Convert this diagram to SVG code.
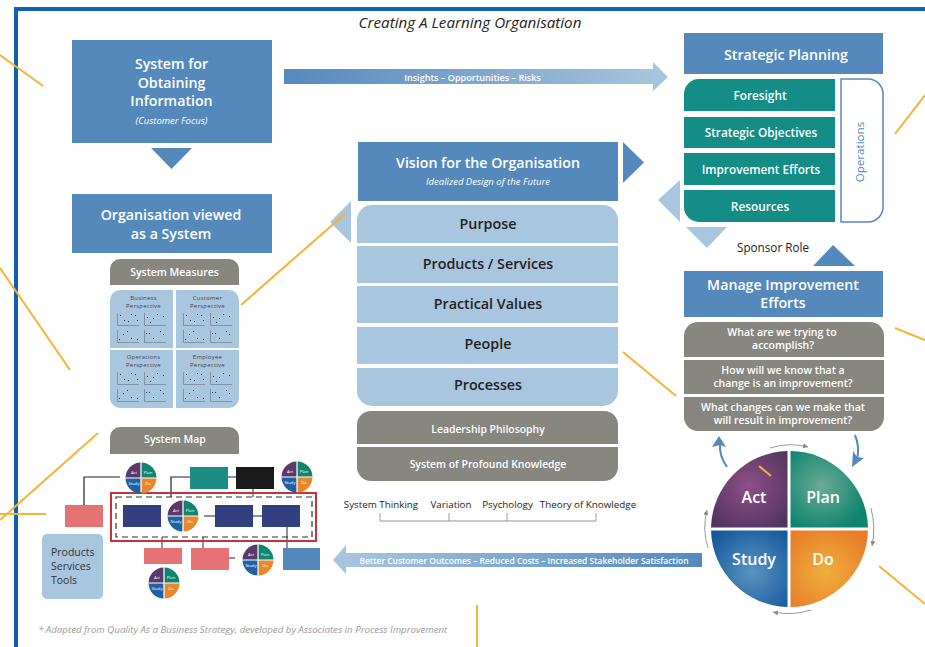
<svg xmlns="http://www.w3.org/2000/svg" xmlns:xlink="http://www.w3.org/1999/xlink" width="925" height="647" viewBox="0 0 925 647">
<style>
text{font-family:"Open Sans","Noto Sans","DejaVu Sans",sans-serif;text-anchor:middle}
.blue{fill:#5589BC}.light{fill:#A9C6DF}.teal{fill:#138D85}.grey{fill:#87877F}
.w{fill:#fff;font-weight:600}
.d{fill:#222;font-weight:600;font-size:14.3px}
.h{font-size:14.2px}
.sub{fill:#fff;font-style:italic;font-size:9.5px}
.t{font-size:11.8px}
.q{font-size:10.5px}
.p{fill:#444;font-size:5.9px;letter-spacing:.3px}
.y{stroke:#F9B233;stroke-width:2;fill:none}
.c{stroke:#222;stroke-width:1.2;fill:none}
.c2{stroke:#666;stroke-width:1.4;fill:none}
.ar{stroke:#999;stroke-width:1;fill:none;marker-end:url(#ah)}
.mt{fill:#fff;font-size:4.2px}
.ax{stroke:#6F7C8C;stroke-width:.7;fill:none}
.pdsa{fill:#fff;font-weight:600;font-size:16px}
.lab{font-size:9.8px;fill:#222}
.st{text-anchor:start;font-size:10.5px;fill:#333}
</style>
<defs>
<linearGradient id="gTop"><stop offset="0" stop-color="#5589BC"/><stop offset="1" stop-color="#A9C6DF"/></linearGradient>
<linearGradient id="gBot"><stop offset="0" stop-color="#A9C6DF"/><stop offset="1" stop-color="#5589BC"/></linearGradient>
<radialGradient id="gAct" gradientUnits="userSpaceOnUse" cx="749" cy="486" r="50"><stop offset="0" stop-color="#8E4F88"/><stop offset="1" stop-color="#52345F"/></radialGradient>
<radialGradient id="gPlan" gradientUnits="userSpaceOnUse" cx="822" cy="486" r="46"><stop offset="0" stop-color="#6CAA95"/><stop offset="1" stop-color="#0F8570"/></radialGradient>
<radialGradient id="gStudy" gradientUnits="userSpaceOnUse" cx="752" cy="572" r="52"><stop offset="0" stop-color="#5A93C2"/><stop offset="1" stop-color="#14599B"/></radialGradient>
<radialGradient id="gDo" gradientUnits="userSpaceOnUse" cx="826" cy="572" r="50"><stop offset="0" stop-color="#EFB03C"/><stop offset="1" stop-color="#E77C2A"/></radialGradient>
<marker id="ah" markerWidth="6" markerHeight="6" refX="5" refY="3" orient="auto"><path d="M0,0.5L5,3L0,5.5Z" fill="#888"/></marker>
<g id="mini">
<path d="M-.6,-.6V-15.5A15.5,15.5 0 0 0 -15.5,-.6Z" fill="#5B3A6B"/>
<path d="M.6,-.6V-15.5A15.5,15.5 0 0 1 15.5,-.6Z" fill="#0F8570"/>
<path d="M-.6,.6V15.5A15.5,15.5 0 0 1 -15.5,.6Z" fill="#1E62A3"/>
<path d="M.6,.6V15.5A15.5,15.5 0 0 0 15.5,.6Z" fill="#E8872C"/>
<text class="mt" x="-7" y="-4.5">Act</text><text class="mt" x="7" y="-4.5">Plan</text><text class="mt" x="-7" y="7">Study</text><text class="mt" x="7" y="7">Do</text>
</g>
<g id="ch">
<path class="ax" d="M117.500,313V325.500H139"/><path class="ax" d="M144.500,313V325.500H166"/><path class="ax" d="M117.500,330V342.500H139"/><path class="ax" d="M144.500,330V342.500H166"/>
<path d="M120,315h1v1h-1zM124,320h1v1h-1zM128,321h1v1h-1zM131,314h1v1h-1zM135,315h1v1h-1zM137,320h1v1h-1zM147,317h1v1h-1zM150,322h1v1h-1zM153,318h1v1h-1zM157,314h1v1h-1zM163,316h1v1h-1zM119,339h1v1h-1zM123,334h1v1h-1zM127,331h1v1h-1zM131,338h1v1h-1zM137,339h1v1h-1zM146,333h1v1h-1zM149,333h1v1h-1zM153,338h1v1h-1zM160,331h1v1h-1zM163,334h1v1h-1z" fill="#2A3550"/>
</g>
</defs>

<g id="frame"><path d="M16,647V9H925" fill="none" stroke="#0B62B0" stroke-width="4"/></g>
<g id="title"><text x="470" y="28" font-size="15.200" font-style="italic" fill="#222">Creating A Learning Organisation</text></g>

<g id="connectors">
<path class="c" d="M84,505V477H120M171,497V477H190M228,477H236M204,516H215M253,516H262M229,558H235"/>
<path class="c2" d="M253,489V497M287,527V548M162,537V548M203,548V537"/>
<path d="M380,513V521H596V513M449,513V521M507,513V521" fill="none" stroke="#999" stroke-width="1"/>
<path id="arrowTop" d="M284,69H653V62L668,77L653,91V84H284Z" fill="url(#gTop)"/>
<path id="arrowBottom" d="M702,553H346V545L333,560L346,574V567H702Z" fill="url(#gBot)"/>
<path class="blue" d="M151,148H192L171.500,169Z"/>
<path class="blue" d="M623,142L644,162.500L623,183Z"/>
<path class="light" d="M330,222L351,201V243Z"/>
<path class="light" d="M658,200L680,180V222Z"/>
<path class="light" d="M686,227H727L707,248Z"/>
<path class="blue" d="M813,266H855L833,245Z"/>
<path class="ar" d="M770,448Q789,442 808,447"/>
<path class="ar" d="M871,508Q876,527 872,546"/>
<path class="ar" d="M811,610Q792,616 773,612"/>
<path class="ar" d="M708,548Q702,529 707,510"/>
<path d="M727,467Q719,456 720,443" fill="none" stroke="#5589BC" stroke-width="2"/>
<path class="blue" d="M719,436L726,447L720,445L712,447Z"/>
<path d="M855,435Q860,447 857,459" fill="none" stroke="#5589BC" stroke-width="2"/>
<path class="blue" d="M852,467L853,451L857,457L864,458Z"/>
</g>

<g id="obtaining">
<rect class="blue" x="72" y="40" width="200" height="103"/>
<text class="w h" x="171.500" y="69">System for</text><text class="w h" x="171.500" y="88">Obtaining</text><text class="w h" x="171.500" y="106">Information</text>
<text class="sub" x="171.500" y="124">(Customer Focus)</text>
</g>
<g id="organisation">
<rect class="blue" x="72" y="194" width="200" height="59"/>
<text class="w h" x="171" y="220">Organisation viewed</text><text class="w h" x="171" y="239">as a System</text>
</g>
<g id="measures">
<path class="grey" d="M110,285V269A10,10 0 0 1 120,259H229A10,10 0 0 1 239,269V285Z"/>
<text class="w" font-size="10.500" x="174.500" y="276">System Measures</text>
<path class="light" d="M110,348V300A10,10 0 0 1 120,290H173V348Z"/>
<path class="light" d="M176,348V290H229A10,10 0 0 1 239,300V348Z"/>
<path class="light" d="M110,350H173V408H120A10,10 0 0 1 110,398Z"/>
<path class="light" d="M176,350H239V398A10,10 0 0 1 229,408H176Z"/>
<text class="p" x="143.500" y="299.500">Business</text><text class="p" x="143.500" y="308">Perspective</text>
<text class="p" x="207.500" y="299.500">Customer</text><text class="p" x="207.500" y="308">Perspective</text>
<text class="p" x="143.500" y="358.500">Operations</text><text class="p" x="143.500" y="367">Perspective</text>
<text class="p" x="207.500" y="358.500">Employee</text><text class="p" x="207.500" y="367">Perspective</text>
<use href="#ch"/><use href="#ch" x="66"/><use href="#ch" y="59"/><use href="#ch" x="66" y="59"/>
</g>
<g id="systemMap">
<path class="grey" d="M110,454V437A10,10 0 0 1 120,427H229A10,10 0 0 1 239,437V454Z"/>
<text class="w" font-size="10.500" x="175" y="443">System Map</text>
<rect x="111" y="493" width="205" height="48" fill="none" stroke="#C8303A" stroke-width="2"/>
<rect x="116" y="497" width="196" height="40" fill="none" stroke="#333" stroke-width="1.200" stroke-dasharray="6 4"/>
<rect x="190" y="467" width="38" height="22" fill="#1B8D85"/>
<rect x="236" y="467" width="38" height="22" fill="#1A1A1A"/>
<rect x="123" y="505" width="38" height="22" fill="#33407F"/>
<rect x="215" y="505" width="38" height="22" fill="#33407F"/>
<rect x="262" y="505" width="38" height="22" fill="#33407F"/>
<rect x="65" y="505" width="38" height="22" fill="#E57373"/>
<rect x="144" y="548" width="38" height="16" fill="#E57373"/>
<rect x="191" y="548" width="38" height="22" fill="#E57373"/>
<rect x="283" y="548" width="37" height="22" class="blue"/>
<use href="#mini" x="141" y="478"/><use href="#mini" x="297" y="477"/><use href="#mini" x="183" y="516"/><use href="#mini" x="258" y="560"/><use href="#mini" x="164" y="583"/>
</g>
<g id="products">
<rect class="light" x="42" y="534" width="61" height="65" rx="5"/>
<text class="st" x="51" y="556">Products</text>
<text class="st" x="51" y="570">Services</text>
<text class="st" x="51" y="584">Tools</text>
</g>
<g id="vision">
<rect class="blue" x="358" y="142" width="260" height="59"/>
<text class="w h" x="488" y="168">Vision for the Organisation</text>
<text class="sub" x="488" y="185">Idealized Design of the Future</text>
</g>
<g id="pillars">
<path class="light" d="M357,243V220A15,15 0 0 1 372,205H603A15,15 0 0 1 618,220V243Z"/>
<rect class="light" x="357" y="246" width="261" height="37"/>
<rect class="light" x="357" y="286" width="261" height="37"/>
<rect class="light" x="357" y="327" width="261" height="37"/>
<path class="light" d="M357,368H618V391A15,15 0 0 1 603,406H372A15,15 0 0 1 357,391Z"/>
<text class="d" x="488" y="229">Purpose</text><text class="d" x="488" y="269">Products / Services</text><text class="d" x="488" y="309">Practical Values</text><text class="d" x="488" y="349">People</text><text class="d" x="488" y="390">Processes</text>
</g>
<g id="knowledge">
<path class="grey" d="M357,444V425A14,14 0 0 1 371,411H604A14,14 0 0 1 618,425V444Z"/>
<path class="grey" d="M357,447H618V467A14,14 0 0 1 604,481H371A14,14 0 0 1 357,467Z"/>
<text class="w" font-size="10.400" x="488" y="432.500">Leadership Philosophy</text>
<text class="w" font-size="10.400" x="488" y="468">System of Profound Knowledge</text>
<text class="lab" x="381" y="508">System Thinking</text>
<text class="lab" x="451" y="508">Variation</text>
<text class="lab" x="507.500" y="508">Psychology</text>
<text class="lab" x="588" y="508">Theory of Knowledge</text>
</g>
<g id="arrowLabels">
<text class="w" font-size="9.100" x="472.500" y="80.500">Insights – Opportunities – Risks</text>
<text class="w" font-size="8.450" x="524" y="564">Better Customer Outcomes – Reduced Costs – Increased Stakeholder Satisfaction</text>
</g>
<g id="strategic">
<rect class="blue" x="684" y="33" width="199" height="41"/>
<text class="w h" x="786" y="60">Strategic Planning</text>
<path class="teal" d="M684,111V94A15,15 0 0 1 699,79H835V111Z"/>
<rect class="teal" x="684" y="117" width="151" height="31"/>
<rect class="teal" x="684" y="153" width="151" height="32"/>
<path class="teal" d="M684,190H835V222H699A15,15 0 0 1 684,207Z"/>
<text class="w t" x="760" y="100">Foresight</text><text class="w t" x="761" y="137">Strategic Objectives</text><text class="w t" x="761" y="174">Improvement Efforts</text><text class="w t" x="760" y="211">Resources</text>
<path d="M841,79H868A15,15 0 0 1 883,94V207A15,15 0 0 1 868,222H841Z" fill="#fff" stroke="#5589BC" stroke-width="1.500"/>
<text x="864" y="152" font-size="11.600" fill="#5589BC" transform="rotate(-90 864 152)">Operations</text>
<text x="773" y="252" font-size="11.700" fill="#222">Sponsor Role</text>
</g>
<g id="manage">
<rect class="blue" x="684" y="271" width="199" height="46"/>
<text class="w h" x="783" y="290">Manage Improvement</text><text class="w h" x="783" y="308">Efforts</text>
<path class="grey" d="M684,357V336A14,14 0 0 1 698,322H870A14,14 0 0 1 884,336V357Z"/>
<rect class="grey" x="684" y="360" width="200" height="34"/>
<path class="grey" d="M684,397H884V417A14,14 0 0 1 870,431H698A14,14 0 0 1 684,417Z"/>
<text class="w q" x="782" y="336">What are we trying to</text><text class="w q" x="783" y="349">accomplish?</text>
<text class="w q" x="783" y="374">How will we know that a</text><text class="w q" x="783" y="387">change is an improvement?</text>
<text class="w q" x="783" y="411">What changes can we make that</text><text class="w q" x="783" y="424">will result in improvement?</text>
</g>
<g id="pdsa">
<path fill="url(#gAct)" d="M787.500,527.500V451A78.500,78.500 0 0 0 711,527.500Z"/>
<path fill="url(#gPlan)" d="M790.500,527.500V451A78.500,78.500 0 0 1 868,527.500Z"/>
<path fill="url(#gStudy)" d="M787.500,530.500V607A78.500,78.500 0 0 1 711,530.500Z"/>
<path fill="url(#gDo)" d="M790.500,530.500V607A78.500,78.500 0 0 0 868,530.500Z"/>
<text class="pdsa" x="754" y="503">Act</text><text class="pdsa" x="823" y="503">Plan</text><text class="pdsa" x="754" y="565">Study</text><text class="pdsa" x="823" y="565">Do</text>
</g>
<g id="footnote"><text x="38" y="633" font-size="9.700" font-style="italic" fill="#999" style="text-anchor:start">* Adapted from Quality As a Business Strategy, developed by Associates in Process Improvement</text></g>
<g id="callouts">
<path class="y" d="M0,55L43,86M0,268L70,370M0,520L98,433M0,514H46M241,305L346,213M895,134L925,95M895,328L925,340M623,352L676,396M879,566L925,604M477,605V647M759,466L771,476"/>
</g>
</svg>
